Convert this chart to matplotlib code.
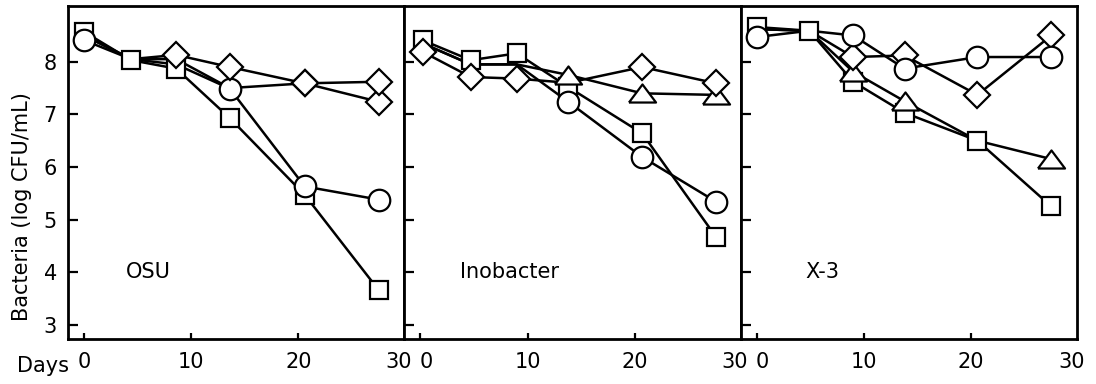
import matplotlib
matplotlib.use("Agg")
import matplotlib.pyplot as plt
import matplotlib.transforms as mtransforms

plt.rcParams['font.family'] = ['DejaVu Sans']

# ---------------- data ----------------
panel_names = ["OSU", "Inobacter", "X-3"]

osu_days = [0, 4.4, 8.6, 13.6, 20.6, 27.5]
osu_square = [8.57, 8.03, 7.87, 6.93, 5.47, 3.66]
osu_circle = [8.41, 8.05, 7.95, 7.49, 5.63, 5.38]
osu_diamond_a = [8.50, 8.05, 8.13, 7.90, 7.59, 7.62]
osu_diamond_b = [8.50, 8.05, 8.05, 7.50, 7.59, 7.24]

ino_days = [0.2, 4.7, 9.0, 13.8, 20.7, 27.6]
ino_square = [8.41, 8.03, 8.16, 7.52, 6.64, 4.67]
ino_circle = [8.35, 7.95, 7.95, 7.24, 6.19, 5.34]
ino_triangle = [8.35, 7.95, 7.95, 7.75, 7.40, 7.37]
ino_diamond = [8.19, 7.71, 7.68, 7.60, 7.90, 7.59]

x3_days = [0, 4.9, 9.0, 13.8, 20.6, 27.5]
x3_square = [8.66, 8.59, 7.62, 7.03, 6.50, 5.25]
x3_circle = [8.47, 8.59, 8.50, 7.87, 8.09, 8.09]
x3_diamond = [8.62, 8.59, 8.09, 8.12, 7.37, 8.50]
x3_triangle = [8.62, 8.59, 7.81, 7.25, 6.50, 6.15]

xticks = [0, 10, 20]
yticks = [3, 4, 5, 6, 7, 8]
label_pos = [(3.9, 4.0), (3.7, 4.0), (4.5, 4.0)]

# ---------------- styling ----------------
tri_marker = [(-1.5, -1.0), (1.5, -1.0), (0.0, 1.0), (-1.5, -1.0)]
mstyle = {
    "square": dict(marker="s", ms=13.5),
    "circle": dict(marker="o", ms=15.5),
    "diamond": dict(marker="D", ms=13.5),
    "triangle": dict(marker=tri_marker, ms=19.5),
}

# (kind, values, indices where the symbol is visible in the original)
panels = [
    (osu_days, [("square", osu_square, [0, 1, 2, 3, 4, 5]),
                ("circle", osu_circle, [0, 3, 4, 5]),
                ("diamond", osu_diamond_b, [4, 5]),
                ("diamond", osu_diamond_a, [2, 3, 4, 5])]),
    (ino_days, [("square", ino_square, [0, 1, 2, 3, 4, 5]),
                ("triangle", ino_triangle, [3, 4, 5]),
                ("circle", ino_circle, [3, 4, 5]),
                ("diamond", ino_diamond, [0, 1, 2, 4, 5])]),
    (x3_days, [("square", x3_square, [0, 1, 2, 3, 4, 5]),
               ("triangle", x3_triangle, [2, 3, 5]),
               ("diamond", x3_diamond, [2, 3, 4, 5]),
               ("circle", x3_circle, [0, 2, 3, 4, 5])]),
]

W, H = 1096, 384
fig = plt.figure(figsize=(W / 100, H / 100), dpi=100)
axes = fig.subplots(1, 3, sharey=True)
fig.subplots_adjust(left=68 / W, right=1077 / W, bottom=1 - 339 / H, top=1 - 6 / H, wspace=0)

FS = 15
for i, (ax, (days, series)) in enumerate(zip(axes, panels)):
    for name, vals, vis in series:
        ax.plot(days, vals, color="black", lw=1.8, zorder=2)
    for k, (name, vals, vis) in enumerate(series):
        ax.plot(days, vals, linestyle="none", mfc="white", mec="black",
                mew=1.6, zorder=3 + k, markevery=vis, **mstyle[name])
    ax.set_xlim(-1.5, 29.9)
    ax.set_ylim(2.73, 9.06)
    ax.set_xticks(xticks)
    ax.set_xticklabels([str(t) for t in xticks], fontsize=FS)
    ax.set_yticks(yticks)
    ax.tick_params(axis="x", direction="in", length=4, width=1.6, pad=9)
    ax.tick_params(axis="y", direction="in", length=7, width=1.6, pad=8, labelsize=FS)
    for sp in ax.spines.values():
        sp.set_linewidth(2.0)
    ax.annotate("30", xy=(1, 0), xycoords="axes fraction",
                xytext=(-4, -9), textcoords="offset points",
                ha="center", va="top", fontsize=FS)
    if i > 0:
        lab0 = ax.get_xticklabels()[0]
        lab0.set_transform(lab0.get_transform() +
                           mtransforms.ScaledTranslation(6 / 100, 0, fig.dpi_scale_trans))
        ax.tick_params(axis="y", labelleft=False)
    lx, ly = label_pos[i]
    ax.text(lx, ly, panel_names[i], ha="left", va="center", fontsize=FS)

axes[0].set_yticklabels([str(t) for t in yticks])
fig.text(43 / W, 1 - 366 / H, "Days", ha="center", va="center", fontsize=FS)
fig.text(22 / W, 1 - 207 / H, "Bacteria (log CFU/mL)", ha="center", va="center",
         rotation=90, fontsize=FS)

fig.savefig("out.png", dpi=100)
